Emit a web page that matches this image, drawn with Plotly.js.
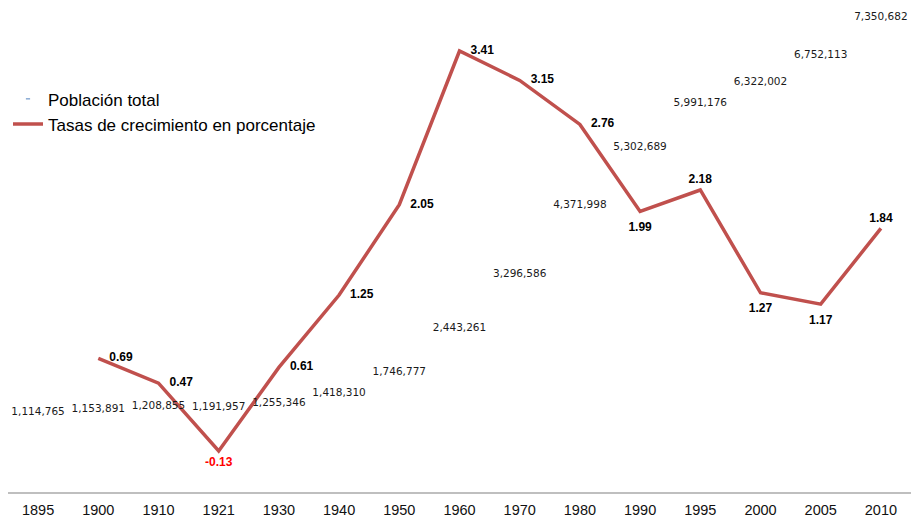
<!DOCTYPE html>
<html>
<head>
<meta charset="utf-8">
<script src="https://cdn.plot.ly/plotly-3.0.1.min.js"></script>
<style>html,body{margin:0;padding:0;background:#fff;}#chart{width:914px;height:522px;}</style>
</head>
<body>
<div id="chart"></div>
<script>
var years = ['1895','1900','1910','1921','1930','1940','1950','1960','1970','1980','1990','1995','2000','2005','2010'];
var poblacion = [1114765,1153891,1208855,1191957,1255346,1418310,1746777,2443261,3296586,4371998,5302689,5991176,6322002,6752113,7350682];
var tasaYears = ['1900','1910','1921','1930','1940','1950','1960','1970','1980','1990','1995','2000','2005','2010'];
var tasas = [0.69,0.47,-0.13,0.61,1.25,2.05,3.41,3.15,2.76,1.99,2.18,1.27,1.17,1.84];
var tasaPos = ['middle right','middle right','bottom center','middle right','middle right','middle right','middle right','middle right','middle right','bottom center','top center','bottom center','bottom center','top center'];
var tasaGap = [16,16,8,16,16,16,16,16,16,16,4,14,16,4];

function fmt(n){return n.toString().replace(/\B(?=(\d{3})+(?!\d))/g, ',');}

var traces = [
  {
    x: years, y: poblacion, yaxis: 'y2', type: 'scatter', mode: 'text',
    text: poblacion.map(fmt), textposition: 'top center',
    textfont: {family: 'DejaVu Sans, sans-serif', size: 10.5, color: '#1a1a1a'},
    showlegend: false, hoverinfo: 'skip'
  },
  {
    x: [null], y: [null], type: 'scatter', mode: 'markers', name: 'Población total',
    marker: {symbol: 'line-ew-open', size: 3, color: '#4F81BD', line: {width: 1, color: '#4F81BD'}}
  },
  {
    x: tasaYears, y: tasas, type: 'scatter', mode: 'lines+markers+text',
    name: 'Tasas de crecimiento en porcentaje',
    line: {color: '#C0504D', width: 3.5},
    marker: {size: tasaGap, color: 'rgba(0,0,0,0)', line: {width: 0}},
    text: tasas.map(function(v){return '<b>' + v.toFixed(2) + '</b>';}),
    textposition: tasaPos,
    textfont: {family: 'Liberation Sans, Arial, sans-serif', size: 12,
      color: tasas.map(function(v){return v < 0 ? '#FF0000' : '#000000';})},
    hoverinfo: 'skip'
  }
];

var layout = {
  width: 914, height: 522,
  margin: {l: 8, r: 3, t: 10, b: 30},
  paper_bgcolor: '#ffffff', plot_bgcolor: '#ffffff',
  font: {family: 'Liberation Sans, Arial, sans-serif', color: '#000'},
  xaxis: {
    type: 'category', categoryorder: 'array', categoryarray: years,
    range: [-0.5, years.length - 0.5],
    showgrid: false, zeroline: false, showline: true, linecolor: '#BFBFBF', linewidth: 2,
    ticks: '', tickfont: {size: 14.5, color: '#111'}, ticklabelstandoff: 4
  },
  yaxis: {
    range: [-0.493, 3.773], visible: false, showgrid: false, zeroline: false
  },
  yaxis2: {
    range: [-63000, 7547000], overlaying: 'y', side: 'right', visible: false, showgrid: false, zeroline: false
  },
  legend: {
    x: 0.0, y: 0.852, xanchor: 'left', yanchor: 'top',
    font: {size: 17, color: '#000'}, bgcolor: 'rgba(0,0,0,0)', tracegroupgap: 0
  },
  showlegend: true
};

Plotly.newPlot('chart', traces, layout, {displayModeBar: false, staticPlot: true});
</script>
</body>
</html>
